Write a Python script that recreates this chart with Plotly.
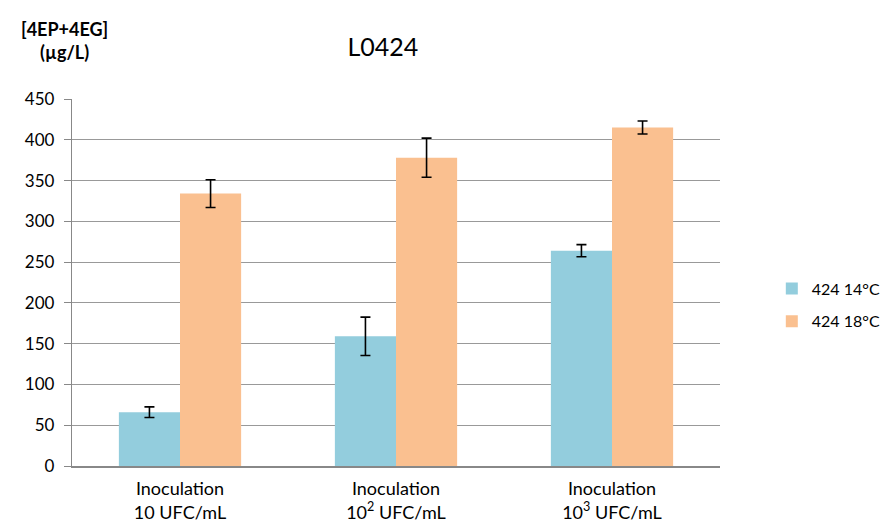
import plotly.graph_objects as go

categories = ["Inoculation<br>10 UFC/mL", "Inoculation<br>10<sup>2</sup> UFC/mL", "Inoculation<br>10<sup>3</sup> UFC/mL"]
series_names = ["424 14°C", "424 18°C"]
values_14 = [66, 159, 264]
errors_14 = [6.5, 23.5, 7.5]
values_18 = [334, 378, 415]
errors_18 = [17, 24, 8]
y_ticks = [0, 50, 100, 150, 200, 250, 300, 350, 400, 450]

FONT = "Lato, Open Sans, sans-serif"

fig = go.Figure()
fig.add_trace(go.Bar(x=categories, y=values_14, name=series_names[0], legendgroup="a",
                     marker=dict(color="#93CDDD", line=dict(width=0)),
                     error_y=dict(type="data", array=errors_14, color="black", thickness=1.6, width=5)))
fig.add_trace(go.Bar(x=categories, y=values_18, name=series_names[1], legendgroup="b",
                     marker=dict(color="#FAC090", line=dict(width=0)),
                     error_y=dict(type="data", array=errors_18, color="black", thickness=1.6, width=5)))

fig.update_layout(
    width=882, height=517,
    margin=dict(l=64, r=170, t=91, b=59, autoexpand=False),
    paper_bgcolor="white", plot_bgcolor="white",
    barmode="group", bargap=0.434, bargroupgap=0,
    font=dict(family=FONT, size=16, color="black"),
    title=dict(text="L0424", x=0.425, xanchor="center", y=0.925, yanchor="middle",
               font=dict(size=25, family=FONT, color="black")),
    legend=dict(x=0.866, y=0.4255, xref="container", yref="container",
                xanchor="left", yanchor="middle", traceorder="grouped",
                tracegroupgap=9, font=dict(size=16, family=FONT), itemwidth=30),
    xaxis=dict(showline=True, linecolor="#888888", linewidth=1.5, ticks="",
               tickfont=dict(size=18, family=FONT), showgrid=False, ticklabelstandoff=6,
               automargin=False),
    yaxis=dict(range=[0, 450], tickvals=y_ticks, showgrid=True, gridcolor="#999999", gridwidth=1.3,
               ticks="outside", ticklen=7, tickcolor="#888888", showline=True, linecolor="#888888",
               linewidth=1.3, tickfont=dict(size=17, family=FONT), zeroline=False,
               ticklabelstandoff=6, automargin=False),
    annotations=[dict(text="<b>[4EP+4EG]<br>(µg/L)</b>", xref="paper", yref="paper",
                      x=-0.012, y=1.16, xanchor="center", yanchor="middle", showarrow=False,
                      font=dict(size=18, family=FONT), align="center")],
)

fig.write_html("out.html")
